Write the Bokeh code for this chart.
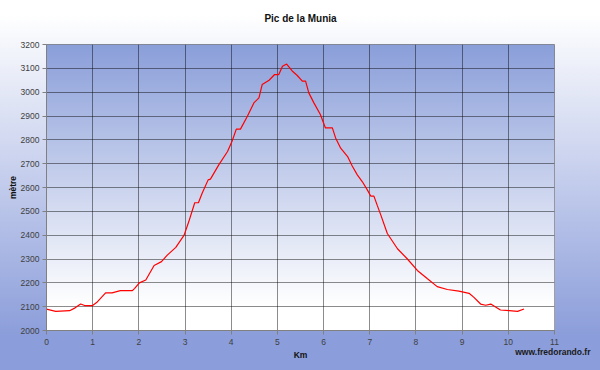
import numpy as np
from bokeh.plotting import figure
from bokeh.models import FixedTicker, Range1d, Title
from bokeh.embed import file_html
from bokeh.resources import INLINE

km = [0, 0.2, 0.5, 0.62, 0.74, 0.84, 0.99, 1.1, 1.28, 1.42, 1.6, 1.86, 1.91, 2.01,
      2.15, 2.33, 2.49, 2.61, 2.8, 2.98, 3.08, 3.21, 3.29, 3.37, 3.5, 3.55, 3.73,
      3.92, 4.02, 4.11, 4.2, 4.35, 4.49, 4.6, 4.67, 4.82, 4.94, 5.03, 5.11, 5.2,
      5.32, 5.43, 5.54, 5.61, 5.68, 5.79, 5.93, 6.04, 6.19, 6.26, 6.37, 6.52, 6.62,
      6.73, 6.84, 6.95, 7.02, 7.09, 7.16, 7.24, 7.38, 7.6, 7.81, 8.03, 8.25, 8.46,
      8.68, 8.93, 9.15, 9.25, 9.4, 9.51, 9.62, 9.83, 10.02, 10.2, 10.34]
alt = [2090, 2080, 2083, 2095, 2111, 2104, 2104, 2120, 2158, 2158, 2167, 2167, 2177, 2200,
       2212, 2273, 2289, 2315, 2349, 2400, 2456, 2536, 2536, 2576, 2632, 2635, 2695,
       2751, 2795, 2845, 2845, 2899, 2955, 2976, 3032, 3050, 3074, 3074, 3109, 3118,
       3089, 3070, 3046, 3046, 2997, 2955, 2906, 2850, 2850, 2808, 2765, 2730, 2690,
       2653, 2624, 2589, 2564, 2564, 2526, 2484, 2407, 2343, 2301, 2252, 2217, 2184,
       2172, 2165, 2156, 2140, 2111, 2106, 2111, 2086, 2083, 2080, 2090]

x_ticks = list(range(0, 12))
y_ticks = list(range(2000, 3201, 100))

FONT = "Liberation Sans"

p = figure(width=600, height=370, x_range=Range1d(0, 11), y_range=Range1d(2000, 3200),
           output_backend="svg", toolbar_location=None,
           min_border_left=46, min_border_right=46, min_border_top=44, min_border_bottom=40,
           title="Pic de la Munia")
p.styles = {"background": "linear-gradient(to bottom, #ffffff 0%, #ffffff 4%, #8b9dda 91%, #8b9dda 100%)"}
p.border_fill_color = None
p.background_fill_color = None
p.outline_line_color = "#808080"

# plot-area vertical gradient (blue top -> white bottom)
N = 240
top = np.array([138, 158, 217], dtype=float)
white = np.array([255, 255, 255], dtype=float)
img = np.zeros((N, 1), dtype=np.uint32)
for i in range(N):
    t = (i + 0.5) / N
    s = max(0.0, (t - 0.09) / 0.91)
    c = white * (1 - s) + top * s
    r, g, b = [int(round(v)) for v in c]
    img[i, 0] = r | (g << 8) | (b << 16) | (255 << 24)
bg = p.image_rgba(image=[img], x=0, y=2000, dw=11, dh=1200)
bg.level = "image"

p.line(km, alt, line_color="#ff0000", line_width=1.2)

for grid, ticks in ((p.xgrid, x_ticks), (p.ygrid, y_ticks)):
    grid.ticker = FixedTicker(ticks=ticks)
    grid.grid_line_color = "#000000"
    grid.grid_line_alpha = 0.45
    grid.grid_line_width = 1

for ax, ticks in ((p.xaxis, x_ticks), (p.yaxis, y_ticks)):
    ax.ticker = FixedTicker(ticks=ticks)
    ax.axis_line_color = "#808080"
    ax.major_tick_line_color = "#808080"
    ax.major_tick_in = 0
    ax.major_tick_out = 4
    ax.minor_tick_line_color = None
    ax.major_label_text_font = FONT
    ax.major_label_text_font_size = "8.5px"
    ax.major_label_text_color = "#404040"
    ax.axis_label_text_font = FONT
    ax.axis_label_text_font_size = "8.5px"
    ax.axis_label_text_font_style = "bold"
    ax.axis_label_text_color = "#111111"

p.xaxis.axis_label = "Km"
p.xaxis.major_label_standoff = 4
p.xaxis.axis_label_standoff = 2
p.yaxis.axis_label = "mètre"
p.yaxis.major_label_standoff = 3
p.yaxis.axis_label_standoff = 0

p.title.align = "center"
p.title.text_font = FONT
p.title.text_font_size = "10px"
p.title.text_font_style = "bold"
p.title.text_color = "#111111"
p.title.standoff = 4

# blank spacer between the title and the plot frame
p.add_layout(Title(text=" ", text_font=FONT, text_font_size="10px", standoff=6), "above")

# watermark, pulled up into the row of the x-axis label
p.add_layout(Title(text="www.fredorando.fr", align="right", offset=-36, standoff=-31,
                   vertical_align="top",
                   text_font=FONT, text_font_size="8.5px", text_font_style="bold",
                   text_color="#1a1a1a"), "below")

open("out.html", "w").write(file_html(p, INLINE))
